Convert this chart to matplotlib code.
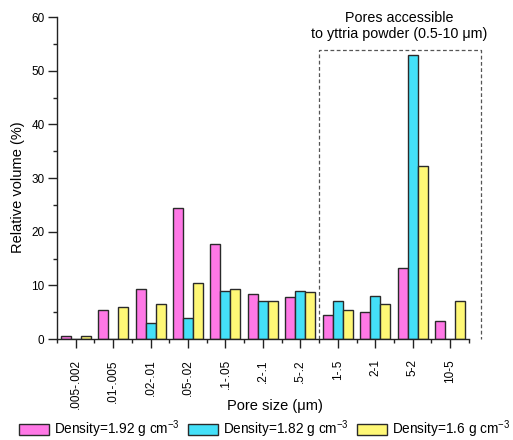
import matplotlib
matplotlib.use("Agg")
import matplotlib.pyplot as plt
from matplotlib.ticker import MultipleLocator
import numpy as np

plt.rcParams['font.family'] = ['Liberation Sans', 'DejaVu Sans']
plt.rcParams['mathtext.fontset'] = 'custom'
plt.rcParams['mathtext.rm'] = 'Liberation Sans'
plt.rcParams['mathtext.it'] = 'Liberation Sans:italic'

categories = ['.005-.002', '.01-.005', '.02-.01', '.05-.02', '.1-.05',
              '.2-.1', '.5-.2', '1-.5', '2-1', '5-2', '10-5']
density_192 = [0.5, 5.5, 9.4, 24.4, 17.8, 8.3, 7.8, 4.4, 5.0, 13.3, 3.3]
density_182 = [0.0, 0.0, 3.0, 4.0, 9.0, 7.0, 9.0, 7.0, 8.0, 53.0, 0.0]
density_160 = [0.5, 6.0, 6.5, 10.4, 9.3, 7.1, 8.8, 5.5, 6.6, 32.2, 7.1]
series_labels = [r'Density=1.92 g cm$^{-3}$', r'Density=1.82 g cm$^{-3}$',
                 r'Density=1.6 g cm$^{-3}$']
colors = ['#FF78E6', '#44E0F8', '#FFF876']

fig = plt.figure(figsize=(5.13, 4.40), dpi=100)
ax = fig.add_axes([0.111, 0.2295, 0.803, 0.7315])

x = np.arange(len(categories))
w = 0.267
handles = []
for i, (vals, c, lab) in enumerate(zip([density_192, density_182, density_160],
                                       colors, series_labels)):
    h = ax.bar(x + (i - 1) * w, vals, width=w, color=c, edgecolor='#2a2a2a',
               linewidth=1.0, label=lab)
    handles.append(h)

ax.set_xlim(-0.5, 10.5)
ax.set_ylim(0, 60)
ax.spines['top'].set_visible(False)
ax.spines['right'].set_visible(False)
for s in ('left', 'bottom'):
    ax.spines[s].set_linewidth(1.0)
    ax.spines[s].set_color('#222222')

ax.set_xticks(x)
ax.set_xticklabels(categories, rotation=90, fontsize=8)
ax.set_xticks(np.arange(-0.5, 10.6, 1.0), minor=True)
ax.yaxis.set_major_locator(MultipleLocator(10))
ax.yaxis.set_minor_locator(MultipleLocator(5))
ax.tick_params(axis='both', which='major', direction='out', length=6.5, width=1,
               labelsize=8.5, color='#222222')
ax.tick_params(axis='both', which='minor', direction='out', length=3, width=1,
               color='#222222')
ax.tick_params(axis='x', which='major', pad=8)
ax.tick_params(axis='y', which='major', pad=2.5)

ax.set_ylabel('Relative volume (%)', fontsize=10.5)
ax.yaxis.set_label_coords(-0.078, 0.472)
ax.set_xlabel('Pore size (μm)', fontsize=10.5)
ax.xaxis.set_label_coords(0.53, -0.187)

# dashed region for the 0.5-10 μm pores
bx0, bx1, by1 = 6.5, 10.82, 53.9
ax.plot([bx0, bx0, bx1, bx1], [0, by1, by1, 0], linestyle=(0, (3, 2)),
        color='#555555', linewidth=0.9, clip_on=False)
ax.text(8.65, 61.2, 'Pores accessible\nto yttria powder (0.5-10 μm)',
        ha='center', va='top', fontsize=10.3, linespacing=1.2)

fig.legend(handles=handles, loc='center', bbox_to_anchor=(0.515, 0.025),
           ncol=3, frameon=False, fontsize=9.8, handlelength=2.25,
           handleheight=0.85, handletextpad=0.32, columnspacing=0.6,
           borderpad=0, borderaxespad=0)

fig.savefig('out.png', dpi=100)
